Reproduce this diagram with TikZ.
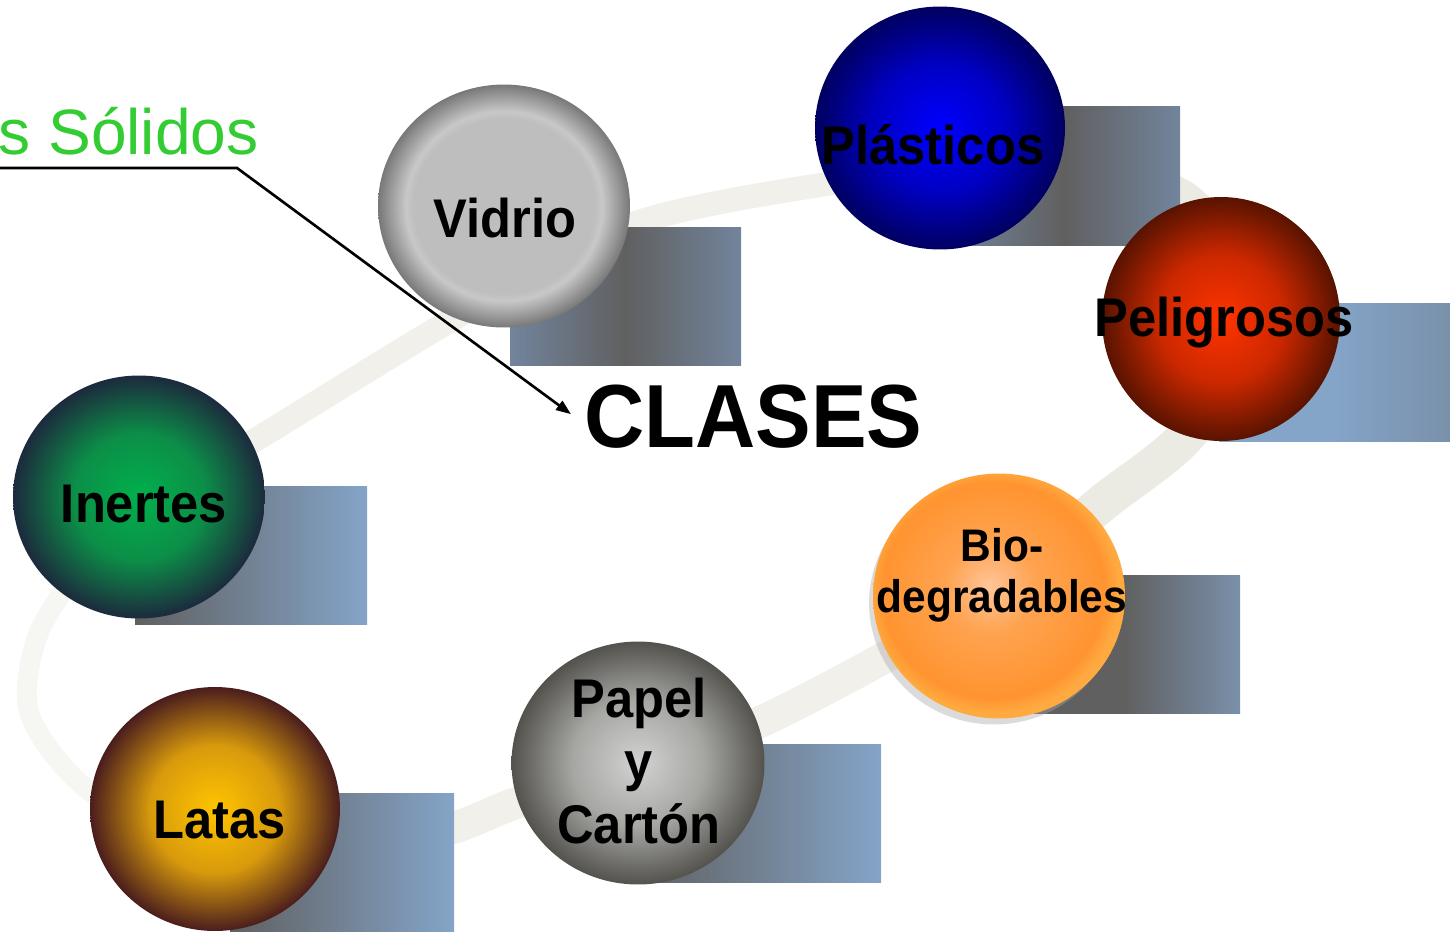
\documentclass[tikz,border=0pt]{standalone}
\usepackage{fontspec}
\setmainfont{Liberation Sans}
\newfontfamily\tagfont{Liberation Sans}[FakeStretch = 0.93]
\usetikzlibrary{positioning, shapes.geometric, arrows.meta}

\definecolor{solidgreen}{HTML}{33CC33}
\definecolor{bandA}{HTML}{ECEBE3}
\definecolor{bandB}{HTML}{F1F0EA}
\definecolor{bandC}{HTML}{F6F6F2}
\definecolor{boxgray}{HTML}{606060}
\definecolor{boxblue}{HTML}{84A4C8}
\definecolor{boxsteel}{HTML}{72849C}
\definecolor{boxdusk}{HTML}{7A90AA}

% ball colours: inner / middle / rim
\definecolor{vidrioIn}{HTML}{BEBEBE}
\definecolor{vidrioHi}{HTML}{C8C8C8}
\definecolor{vidrioOut}{HTML}{787878}
\definecolor{plasIn}{HTML}{0000FF}
\definecolor{plasMid}{HTML}{0000C4}
\definecolor{plasOut}{HTML}{000060}
\definecolor{peliIn}{HTML}{FF3300}
\definecolor{peliMid}{HTML}{CC2800}
\definecolor{peliOut}{HTML}{581300}
\definecolor{inerIn}{HTML}{00B04C}
\definecolor{inerMid}{HTML}{0C8E48}
\definecolor{inerOut}{HTML}{1C2A3D}
\definecolor{latIn}{HTML}{FFC400}
\definecolor{latMid}{HTML}{D89A0C}
\definecolor{latOut}{HTML}{4A1D1D}
\definecolor{papIn}{HTML}{D2D2D2}
\definecolor{papMid}{HTML}{A6A6A3}
\definecolor{papOut}{HTML}{53524D}
\definecolor{bioIn}{HTML}{FFC59A}
\definecolor{bioMid}{HTML}{FFA350}
\definecolor{bioOut}{HTML}{FF9430}
\definecolor{bioRim}{HTML}{FFAA40}

\newcommand{\ballshading}[4]{%
    \pgfdeclareradialshading{#1}{\pgfpoint{0bp}{0bp}}{%
        color(0bp)=(#2); color(13bp)=(#3); color(25bp)=(#4); color(50bp)=(#4)}}
\ballshading{plasball}{plasIn}{plasMid}{plasOut}
\ballshading{peliball}{peliIn}{peliMid}{peliOut}
\ballshading{inerball}{inerIn}{inerMid}{inerOut}
\ballshading{latball}{latIn}{latMid}{latOut}
\ballshading{papball}{papIn}{papMid}{papOut}
\pgfdeclareradialshading{glassball}{\pgfpoint{0bp}{0bp}}{%
    color(0bp)=(vidrioIn); color(18bp)=(vidrioIn); color(19.5bp)=(vidrioHi);
    color(25bp)=(vidrioOut); color(50bp)=(vidrioOut)}
\pgfdeclareradialshading{bioball}{\pgfpoint{-2bp}{2bp}}{%
    color(0bp)=(bioIn); color(9bp)=(bioMid); color(22bp)=(bioOut);
    color(25bp)=(bioRim); color(50bp)=(bioRim)}

\tikzset{
    x = 0.02cm,
    y = -0.02cm,
    ball/.style = {
        ellipse,
        inner sep = 0pt,
        minimum width = 5cm,
        minimum height = 4.86cm
    },
    tag/.style = {
        font = \tagfont\bfseries\fontsize{31}{36}\selectfont,
        align = center,
        inner sep = 0pt
    },
    band/.style = {
        line cap = round,
        line join = round
    },
    pointer/.style = {
        -{Triangle[length = 0.3cm, width = 0.22cm]},
        line width = 1.5pt
    }
}

\begin{document}
\begin{tikzpicture}
    \useasboundingbox (0,0) rectangle (1450,931);

    % ribbon behind everything
    \draw[band, bandC, line width = 0.4cm] plot[smooth] coordinates {
        (215,835) (95,795) (30,715) (40,630) (100,545) (150,505)};
    \draw[band, bandB, line width = 0.48cm] plot[smooth] coordinates {
        (150,500) (255,440) (455,318) (630,225) (820,185) (950,172)};
    \draw[band, bandA, line width = 0.76cm] plot[smooth] coordinates {
        (950,172) (1100,176) (1190,205) (1235,300) (1195,425) (1100,505) (1000,590)};
    \draw[band, bandB, line width = 0.64cm] plot[smooth] coordinates {
        (1000,590) (880,660) (760,722) (640,770) (520,802) (420,835) (215,835)};

    % shadow panels
    \foreach \xa/\ya/\xb/\yb/\colL/\colM/\colR in {
        510/227/741/365/boxsteel/boxgray/boxsteel,
        949/106/1180/245/boxsteel/boxgray/boxsteel,
        1219/303/1450/441/boxblue/boxblue/boxdusk,
        135/486/367/624/boxgray/boxgray!50!boxblue/boxblue,
        1009/575/1240/713/boxgray/boxgray/boxdusk,
        640/744/881/882/boxgray/boxgray!50!boxblue/boxblue,
        230/793/454/931/boxgray/boxgray!50!boxblue/boxblue}{
        \shade[left color = \colL, right color = \colR, middle color = \colM]
            (\xa,\ya) rectangle (\xb,\yb);
    }

    % balls
    \node[ball, shading = glassball, minimum width = 5.04cm] (vidrio) at (504,206) {};
    \node[ball, shading = plasball] (plasticos) at (940,128) {};
    \node[ball, shading = peliball, minimum width = 4.76cm, minimum height = 4.88cm] (peligrosos) at (1221,319) {};
    \node[ball, shading = inerball, minimum width = 5.04cm] (inertes) at (139,497) {};
    \node[ball, fill = gray!70, opacity = .4] (bio-shadow) at (994,603) {};
    \node[ball, shading = bioball, minimum width = 5.04cm, minimum height = 4.9cm] (bio) at (999,596) {};
    \node[ball, shading = papball, minimum width = 5.06cm] (papel) at (638,763) {};
    \node[ball, shading = latball, minimum height = 4.88cm] (latas) at (215,809) {};

    % labels
    \node[tag, anchor = base] (vidrio-label) at (505,237) {Vidrio};
    \node[tag, anchor = base] (plasticos-label) at (933,164) {Plásticos};
    \node[tag, anchor = base] (peligrosos-label) at (1224,336) {Peligrosos};
    \node[tag, anchor = base] (inertes-label) at (144,522) {Inertes};
    \node[tag, font = \tagfont\bfseries\fontsize{26}{29}\selectfont] (bio-label) at (1002,575) {Bio-\\degradables};
    \node[tag] (papel-label) at (639,761) {Papel\\y\\Cartón};
    \node[tag, anchor = base] (latas-label) at (220,838) {Latas};

    \node[tag, font = \tagfont\bfseries\fontsize{51}{56}\selectfont, anchor = base west] (clases) at (584,447) {CLASES};
    \node[font = \fontsize{36.5}{40}\selectfont, text = solidgreen, anchor = base east, inner sep = 0pt] (solidos) at (259,154) {s Sólidos};

    \coordinate (lineStart) at (0,168);
    \coordinate (bend) at (237,168);
    \draw[pointer] (lineStart) -- (bend) -- ([xshift = -0.26cm, yshift = 0.04cm]clases.west);
\end{tikzpicture}
\end{document}
